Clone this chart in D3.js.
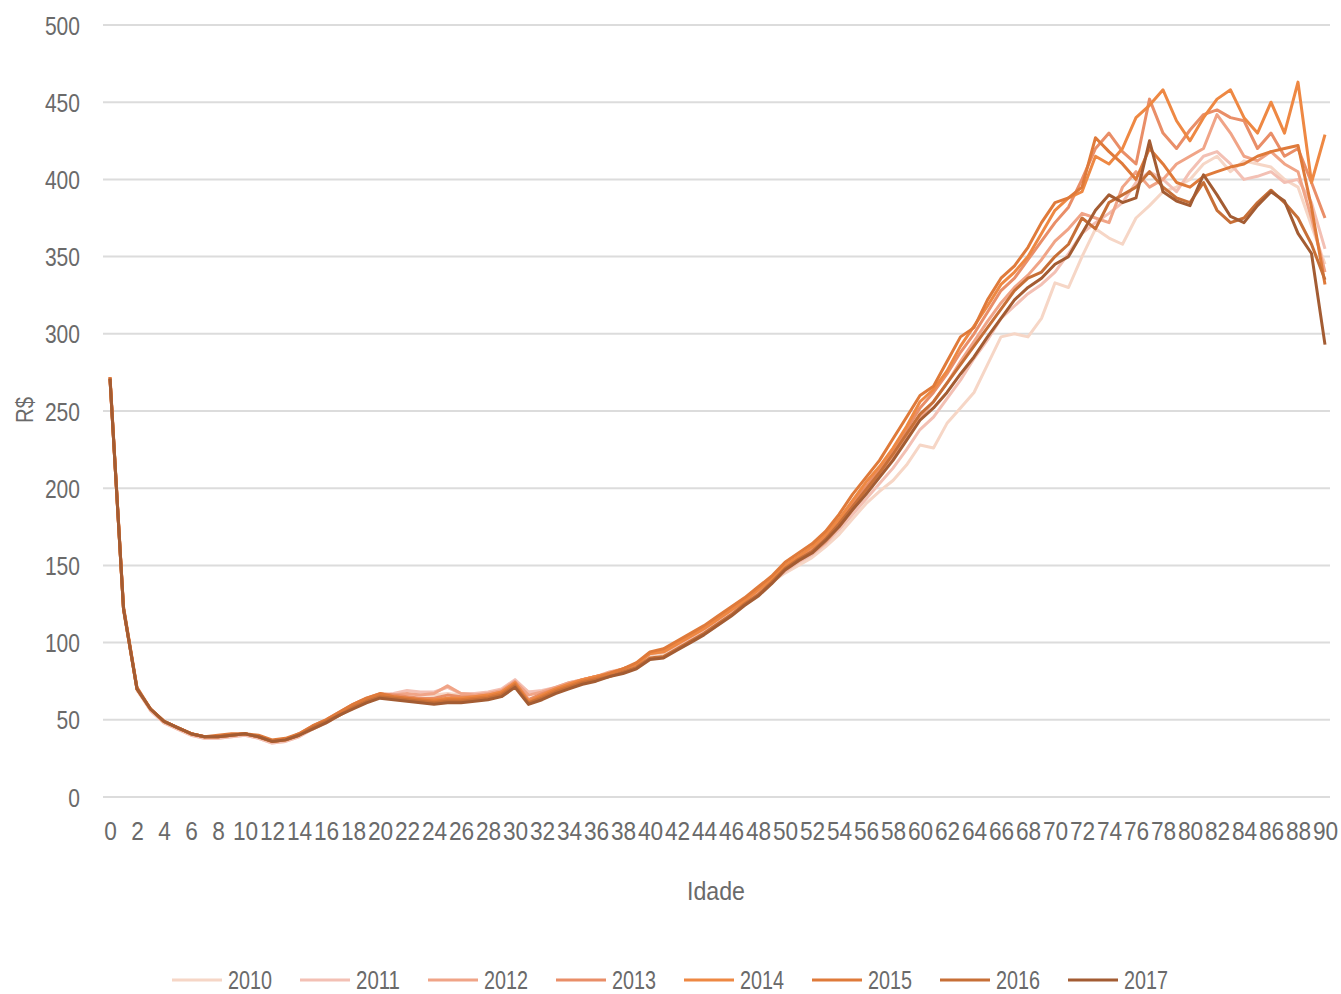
<!DOCTYPE html>
<html lang="pt">
<head>
<meta charset="utf-8" />
<title>Custo por idade</title>
<script src="https://d3js.org/d3.v7.min.js"></script>
<style>
  body { margin: 0; background: #fff; }
  text { font-family: "Liberation Sans", "DejaVu Sans", sans-serif; fill: #6a6a6a; }
  .grid line { stroke: #dcdcdc; stroke-width: 2px; }
</style>
</head>
<body>
<script>
// idades 0..90
var ages = d3.range(0, 91);
var years = ["2010", "2011", "2012", "2013", "2014", "2015", "2016", "2017"];
var colors = ["#f6d6c6", "#f3c0b4", "#f0a487", "#e98e68", "#ee8843", "#df7a3a", "#c76f37", "#a35c33"];
var yTicks = [0, 50, 100, 150, 200, 250, 300, 350, 400, 450, 500];

var v2010 = [270,121,69,56,48,44,40,38,38,39,40,38,35,36,39,44,48,53,58,62,65,65,66,67,66,67,66,66,67,69,75,68,68,71,73,76,78,80,82,85,92,93,98,103,108,114,120,126,132,139,
  145,150,155,162,170,180,190,198,205,215,228,226,242,252,262,280,298,300,298,310,333,330,350,368,362,358,375,383,392,395,400,410,415,405,412,410,408,400,395,370,345];
var v2011 = [271,122,70,56,48,44,40,38,38,39,40,38,35,36,39,44,48,53,58,62,66,67,69,68,68,71,67,67,68,70,76,68,69,71,74,76,78,80,83,86,93,94,98,103,108,114,120,126,133,139,
  146,152,157,164,173,183,193,203,213,225,238,246,258,270,284,296,310,318,326,332,340,352,365,372,378,385,398,405,400,392,405,415,418,410,400,402,405,398,400,385,355];
var v2012 = [271,122,70,57,49,45,41,39,39,40,41,39,36,37,40,45,49,54,59,63,66,66,67,66,67,72,67,66,67,69,75,66,68,71,74,76,78,81,83,86,93,94,99,104,109,115,121,127,133,140,
  147,153,158,165,175,186,197,208,219,232,246,256,268,282,295,308,320,330,338,348,360,368,378,375,372,395,405,395,400,410,415,420,442,430,415,412,418,410,405,375,340];
var v2013 = [272,123,70,57,49,45,41,39,39,40,41,39,36,37,41,46,50,55,60,64,67,66,65,64,64,66,65,65,66,68,74,63,67,70,73,76,78,80,83,86,93,95,100,105,110,116,122,128,135,142,
  149,155,160,168,178,190,201,212,224,238,252,262,274,288,300,314,328,336,348,360,372,382,400,420,430,418,410,452,430,420,432,442,445,440,438,420,430,415,420,398,375];
var v2014 = [271,122,70,57,49,45,41,39,39,40,41,39,36,37,40,45,49,54,59,63,66,65,64,63,63,64,64,65,66,68,74,62,66,70,73,76,78,80,83,86,93,94,99,104,109,115,121,127,134,141,
  150,156,162,170,180,192,204,214,226,240,256,264,276,292,305,318,332,340,350,365,380,388,392,415,410,420,440,448,458,438,425,440,452,458,440,430,450,430,463,398,429];
var v2015 = [272,123,71,57,49,45,41,39,40,41,41,40,37,38,41,46,50,55,60,64,67,65,64,63,62,63,63,64,65,67,73,61,65,69,72,75,77,80,83,87,94,96,101,106,111,117,123,129,136,143,
  152,158,164,172,183,196,207,218,232,246,260,266,282,298,304,322,336,344,356,372,385,388,395,427,418,410,400,420,410,398,395,402,405,408,410,415,418,420,422,382,332];
var v2016 = [271,122,70,57,49,45,41,39,39,40,41,39,36,37,40,45,49,53,58,62,65,64,63,62,61,62,62,63,64,66,72,61,64,68,71,74,76,78,81,84,90,91,96,101,106,112,118,125,131,139,
  148,154,159,167,177,188,199,210,222,235,248,256,268,280,292,304,316,328,336,340,350,358,375,368,385,390,395,405,395,388,385,398,380,372,375,385,393,385,375,358,335];
var v2017 = [271,122,70,57,49,45,41,39,39,40,41,39,36,37,40,44,48,53,57,61,64,63,62,61,60,61,61,62,63,65,71,60,63,67,70,73,75,78,80,83,89,90,95,100,105,111,117,124,130,138,
  147,153,158,166,175,186,196,207,218,231,244,252,262,274,285,298,310,322,330,336,345,350,365,380,390,385,388,425,392,386,383,403,390,376,372,383,392,386,365,352,293];

var values = [v2010, v2011, v2012, v2013, v2014, v2015, v2016, v2017];

var width = 1341, height = 994;
var svg = d3.select("body").append("svg")
    .attr("width", width)
    .attr("height", height);

var x = d3.scaleLinear().domain([0, 90]).range([110, 1325]);
var y = d3.scaleLinear().domain([0, 500]).range([797, 25]);

// texto estreito: fixa a largura de cada rótulo
function narrow(sel, perChar) {
    sel.attr("lengthAdjust", "spacingAndGlyphs")
        .attr("textLength", function () { return this.textContent.length * perChar; });
}

// linhas de grade
svg.append("g").attr("class", "grid")
    .selectAll("line")
    .data(yTicks)
    .enter().append("line")
    .attr("x1", 103).attr("x2", 1330)
    .attr("y1", function (d) { return y(d); })
    .attr("y2", function (d) { return y(d); });

// eixo y
var yAxis = svg.append("g")
    .attr("transform", "translate(80,0)")
    .call(d3.axisLeft(y).tickValues(yTicks).tickSize(0).tickPadding(0));
yAxis.select(".domain").remove();
yAxis.selectAll("text").attr("font-size", 26).attr("dy", "0.35em").style("fill", "#6a6a6a")
    .call(narrow, 11.7);

// eixo x
var xAxis = svg.append("g")
    .attr("transform", "translate(0,797)")
    .call(d3.axisBottom(x).tickValues(ages.filter(function (a) { return a % 2 == 0; }))
        .tickSize(0).tickPadding(25).tickFormat(d3.format("d")));
xAxis.select(".domain").remove();
xAxis.selectAll("text").attr("font-size", 26).style("fill", "#6a6a6a")
    .call(narrow, 12.6);

// títulos
svg.append("text")
    .attr("x", 716).attr("y", 900)
    .attr("text-anchor", "middle")
    .attr("font-size", 25)
    .text("Idade")
    .call(narrow, 11.6);

svg.append("text")
    .attr("transform", "translate(33,410) rotate(-90)")
    .attr("text-anchor", "middle")
    .attr("font-size", 23)
    .text("R$")
    .call(narrow, 13);

// séries
var line = d3.line()
    .x(function (d, i) { return x(ages[i]); })
    .y(function (d) { return y(d); });

svg.append("g")
    .selectAll("path")
    .data(values)
    .enter().append("path")
    .attr("fill", "none")
    .attr("stroke", function (d, i) { return colors[i]; })
    .attr("stroke-width", 3)
    .attr("stroke-linejoin", "round")
    .attr("d", line);

// legenda
var legend = svg.append("g")
    .selectAll("g")
    .data(years)
    .enter().append("g")
    .attr("transform", function (d, i) { return "translate(" + (172 + i * 128) + ",980)"; });

legend.append("line")
    .attr("x1", 0).attr("x2", 50)
    .attr("stroke", function (d, i) { return colors[i]; })
    .attr("stroke-width", 3);

legend.append("text")
    .attr("x", 56).attr("dy", "0.35em")
    .attr("font-size", 25)
    .text(function (d) { return d; })
    .call(narrow, 11);
</script>
</body>
</html>
